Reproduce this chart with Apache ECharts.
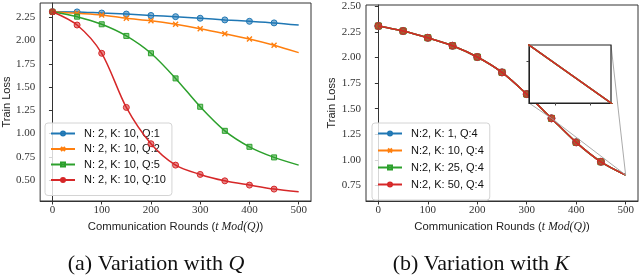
<!DOCTYPE html>
<html><head><meta charset="utf-8">
<script src="https://cdn.jsdelivr.net/npm/echarts@6/dist/echarts.min.js"></script>
<style>html,body{margin:0;padding:0;background:#fff}#c{width:640px;height:277px}</style>
</head><body><div id="c"></div>
<script>
// ---------- data ----------
const rounds = [0, 50, 100, 150, 200, 250, 300, 350, 400, 450, 500];
// (a) Variation with Q  (N: 2, K: 10)
const lossQ1  = [2.31, 2.308, 2.296, 2.285, 2.27, 2.257, 2.24, 2.222, 2.207, 2.19, 2.167];
const lossQ2  = [2.31, 2.293, 2.275, 2.24, 2.213, 2.175, 2.128, 2.074, 2.017, 1.95, 1.87];
const lossQ5  = [2.31, 2.257, 2.175, 2.05, 1.863, 1.593, 1.288, 1.029, 0.857, 0.743, 0.66];
const lossQ10 = [2.31, 2.167, 1.863, 1.281, 0.89, 0.66, 0.56, 0.491, 0.445, 0.402, 0.373];
// (b) Variation with K  (N:2, Q:4)
const lossK1  = [2.308, 2.259, 2.193, 2.115, 2.005, 1.855, 1.643, 1.406, 1.172, 0.982, 0.853];
const lossK10 = [2.308, 2.259, 2.193, 2.115, 2.005, 1.855, 1.643, 1.406, 1.172, 0.982, 0.853];
const lossK25 = [2.308, 2.259, 2.193, 2.115, 2.005, 1.855, 1.643, 1.406, 1.172, 0.982, 0.853];
const lossK50 = [2.308, 2.259, 2.193, 2.115, 2.005, 1.855, 1.643, 1.406, 1.172, 0.982, 0.853];
const namesQ = ['N: 2, K: 10, Q:1', 'N: 2, K: 10, Q:2', 'N: 2, K: 10, Q:5', 'N: 2, K: 10, Q:10'];
const namesK = ['N:2, K: 1, Q:4', 'N:2, K: 10, Q:4', 'N:2, K: 25, Q:4', 'N:2, K: 50, Q:4'];
const xTicks = [0, 100, 200, 300, 400, 500];
const yTicksA = [0.5, 0.75, 1.0, 1.25, 1.5, 1.75, 2.0, 2.25];
const yTicksB = [0.75, 1.0, 1.25, 1.5, 1.75, 2.0, 2.25, 2.5];
const insetX = [372.77, 379.8];
const insetXTicks = [375, 378];
const insetYTicks = [1.29, 1.3225, 1.355, 1.3875];

// ---------- helpers ----------
const colors = ['#1f77b4', '#ff7f0e', '#2ca02c', '#d62728'];
const fills = ['rgba(31,119,180,0.55)', 'rgba(255,127,14,0.55)', 'rgba(44,160,44,0.55)', 'rgba(214,39,40,0.55)'];
const symbols = ['circle', 'path://M0,0L10,10M10,0L0,10', 'rect', 'circle'];
function interp(xs, ys, x) {
  for (let i = 0; i < xs.length - 1; i++) {
    if (x >= xs[i] && x <= xs[i + 1]) {
      const t = (x - xs[i]) / (xs[i + 1] - xs[i]);
      return ys[i] + t * (ys[i + 1] - ys[i]);
    }
  }
  return ys[ys.length - 1];
}
function mk(name, ys, idx, grid, size) {
  const sz = idx === 1 ? size - 1 : (idx === 2 ? size - 1 : size);
  return {
    type: 'line', name: name, xAxisIndex: grid, yAxisIndex: grid,
    smooth: 0.3,
    symbol: symbols[idx], symbolSize: sz,
    showAllSymbol: true,
    lineStyle: { color: colors[idx], width: 1.5 },
    itemStyle: { color: idx === 1 ? 'rgba(0,0,0,0)' : fills[idx], borderColor: colors[idx], borderWidth: idx === 1 ? 1.4 : 1 },
    z: 2 + idx,
    data: rounds.map((x, i) => i === rounds.length - 1 ? { value: [x, ys[i]], symbol: 'none' } : [x, ys[i]])
  };
}
const serif = 'Liberation Serif';
const sans = 'Liberation Sans';
function xAx(grid) {
  return {
    type: 'value', gridIndex: grid, min: -25, max: 525,
    splitLine: { show: false },
    axisLine: { show: true, lineStyle: { color: '#333', width: 1 } },
    axisTick: { show: true, inside: false, length: 3.5, customValues: xTicks, lineStyle: { color: '#333' } },
    axisLabel: { customValues: xTicks, margin: 4, fontFamily: serif, fontSize: 11, color: '#333' },
    name: '{a|Communication Rounds (}{b|t Mod(Q)}{a|)}', nameLocation: 'middle', nameGap: 19,
    nameTextStyle: { rich: { a: { fontFamily: sans, fontSize: 11.3, color: '#222' }, b: { fontFamily: serif, fontStyle: 'italic', fontSize: 11.8, color: '#222' } } }
  };
}
function yAx(grid, mn, mx, ticks) {
  return {
    type: 'value', gridIndex: grid, min: mn, max: mx,
    splitLine: { show: false },
    axisLine: { show: true, lineStyle: { color: '#333', width: 1 } },
    axisTick: { show: true, inside: false, length: 3.5, customValues: ticks, lineStyle: { color: '#333' } },
    axisLabel: { customValues: ticks, margin: 5, fontFamily: serif, fontSize: 11, color: '#333', formatter: v => v.toFixed(2) },
    name: 'Train Loss', nameLocation: 'middle', nameGap: 23,
    nameTextStyle: { fontFamily: sans, fontSize: 11, color: '#222' }
  };
}
function legendOf(names, left, top, gap) {
  return {
    data: names, left: left, top: top, orient: 'vertical',
    itemWidth: 24, itemHeight: 5, itemGap: gap,
    padding: [5, 6, 10, 5],
    backgroundColor: 'rgba(255,255,255,0.8)', borderColor: '#d4d4d4', borderWidth: 1, borderRadius: 3,
    textStyle: { fontFamily: sans, fontSize: 11, color: '#111', padding: [0, 0, 0, 4] }
  };
}

const chart = echarts.init(document.getElementById('c'), null, { renderer: 'canvas' });
const insetY = [interp(rounds, lossK50, insetX[1]), interp(rounds, lossK50, insetX[0])];

const seriesA = [lossQ1, lossQ2, lossQ5, lossQ10].map((ys, i) => mk(namesQ[i], ys, i, 0, 6));
const seriesB = [lossK1, lossK10, lossK25, lossK50].map((ys, i) => mk(namesK[i], ys, i, 1, 7));
const seriesInset = [lossK1, lossK10, lossK25, lossK50].map((ys, i) => ({
  type: 'line', name: namesK[i] + ' inset', xAxisIndex: 2, yAxisIndex: 2, symbol: 'none',
  lineStyle: { color: colors[i], width: 1.5 }, z: 12 + i, legendHoverLink: false,
  data: rounds.map((x, j) => [x, ys[j]])
}));

const capStyle = { fontWeight: 'normal', rich: {
  a: { fontFamily: serif, fontSize: 22, fontWeight: 'normal', color: '#111' },
  b: { fontFamily: serif, fontStyle: 'italic', fontWeight: 'normal', fontSize: 22, color: '#111' } } };

chart.setOption({
  animation: false,
  backgroundColor: '#fff',
  title: [
    { text: '{a|(a) Variation with }{b|Q}', left: 151, top: 248, textAlign: 'center', textStyle: capStyle },
    { text: '{a|(b) Variation with }{b|K}', left: 476, top: 248, textAlign: 'center', textStyle: capStyle }
  ],
  grid: [
    { left: 39, top: 3, width: 272, height: 198, show: true, borderColor: '#333', borderWidth: 1, backgroundColor: 'transparent' },
    { left: 366, top: 5, width: 272, height: 196, show: true, borderColor: '#333', borderWidth: 1, backgroundColor: 'transparent' },
    { left: 529, top: 45, width: 82, height: 58, show: true, borderColor: '#222', borderWidth: 1.2, backgroundColor: '#fff', z: 10 }
  ],
  xAxis: [xAx(0), xAx(1), {
    type: 'value', gridIndex: 2, min: insetX[0], max: insetX[1], z: 11,
    splitLine: { show: false }, axisLine: { show: true, lineStyle: { color: '#222' } },
    axisTick: { show: true, inside: false, length: 2.5, customValues: insetXTicks, lineStyle: { color: '#444' } },
    axisLabel: { show: false }
  }],
  yAxis: [yAx(0, 0.274, 2.404, yTicksA), yAx(1, 0.599, 2.513, yTicksB), {
    type: 'value', gridIndex: 2, min: insetY[0], max: insetY[1], z: 11,
    splitLine: { show: false }, axisLine: { show: true, lineStyle: { color: '#222' } },
    axisTick: { show: true, inside: false, length: 2.5, customValues: insetYTicks, lineStyle: { color: '#444' } },
    axisLabel: { show: false }
  }],
  legend: [legendOf(namesQ, 45, 123, 4.5), legendOf(namesK, 372, 123, 6)],
  series: seriesA.concat(seriesB, seriesInset)
});

// connector lines of the zoom inset, positioned via the library's scales
const pA = chart.convertToPixel({ gridIndex: 1 }, [rounds[7], lossK50[7]]);
const pB = chart.convertToPixel({ gridIndex: 1 }, [rounds[10], lossK50[10]]);
const bl = chart.convertToPixel({ gridIndex: 2 }, [insetX[0], insetY[0]]);
const tr = chart.convertToPixel({ gridIndex: 2 }, [insetX[1], insetY[1]]);
const gl = { stroke: '#a0a0a0', lineWidth: 0.9 };
chart.setOption({
  graphic: [
    { type: 'line', z: 6, shape: { x1: bl[0], y1: bl[1], x2: pA[0], y2: pA[1] }, style: gl },
    { type: 'line', z: 6, shape: { x1: pA[0], y1: pA[1], x2: pB[0], y2: pB[1] }, style: gl },
    { type: 'line', z: 6, shape: { x1: tr[0], y1: tr[1], x2: pB[0], y2: pB[1] }, style: gl }
  ]
});
</script></body></html>
